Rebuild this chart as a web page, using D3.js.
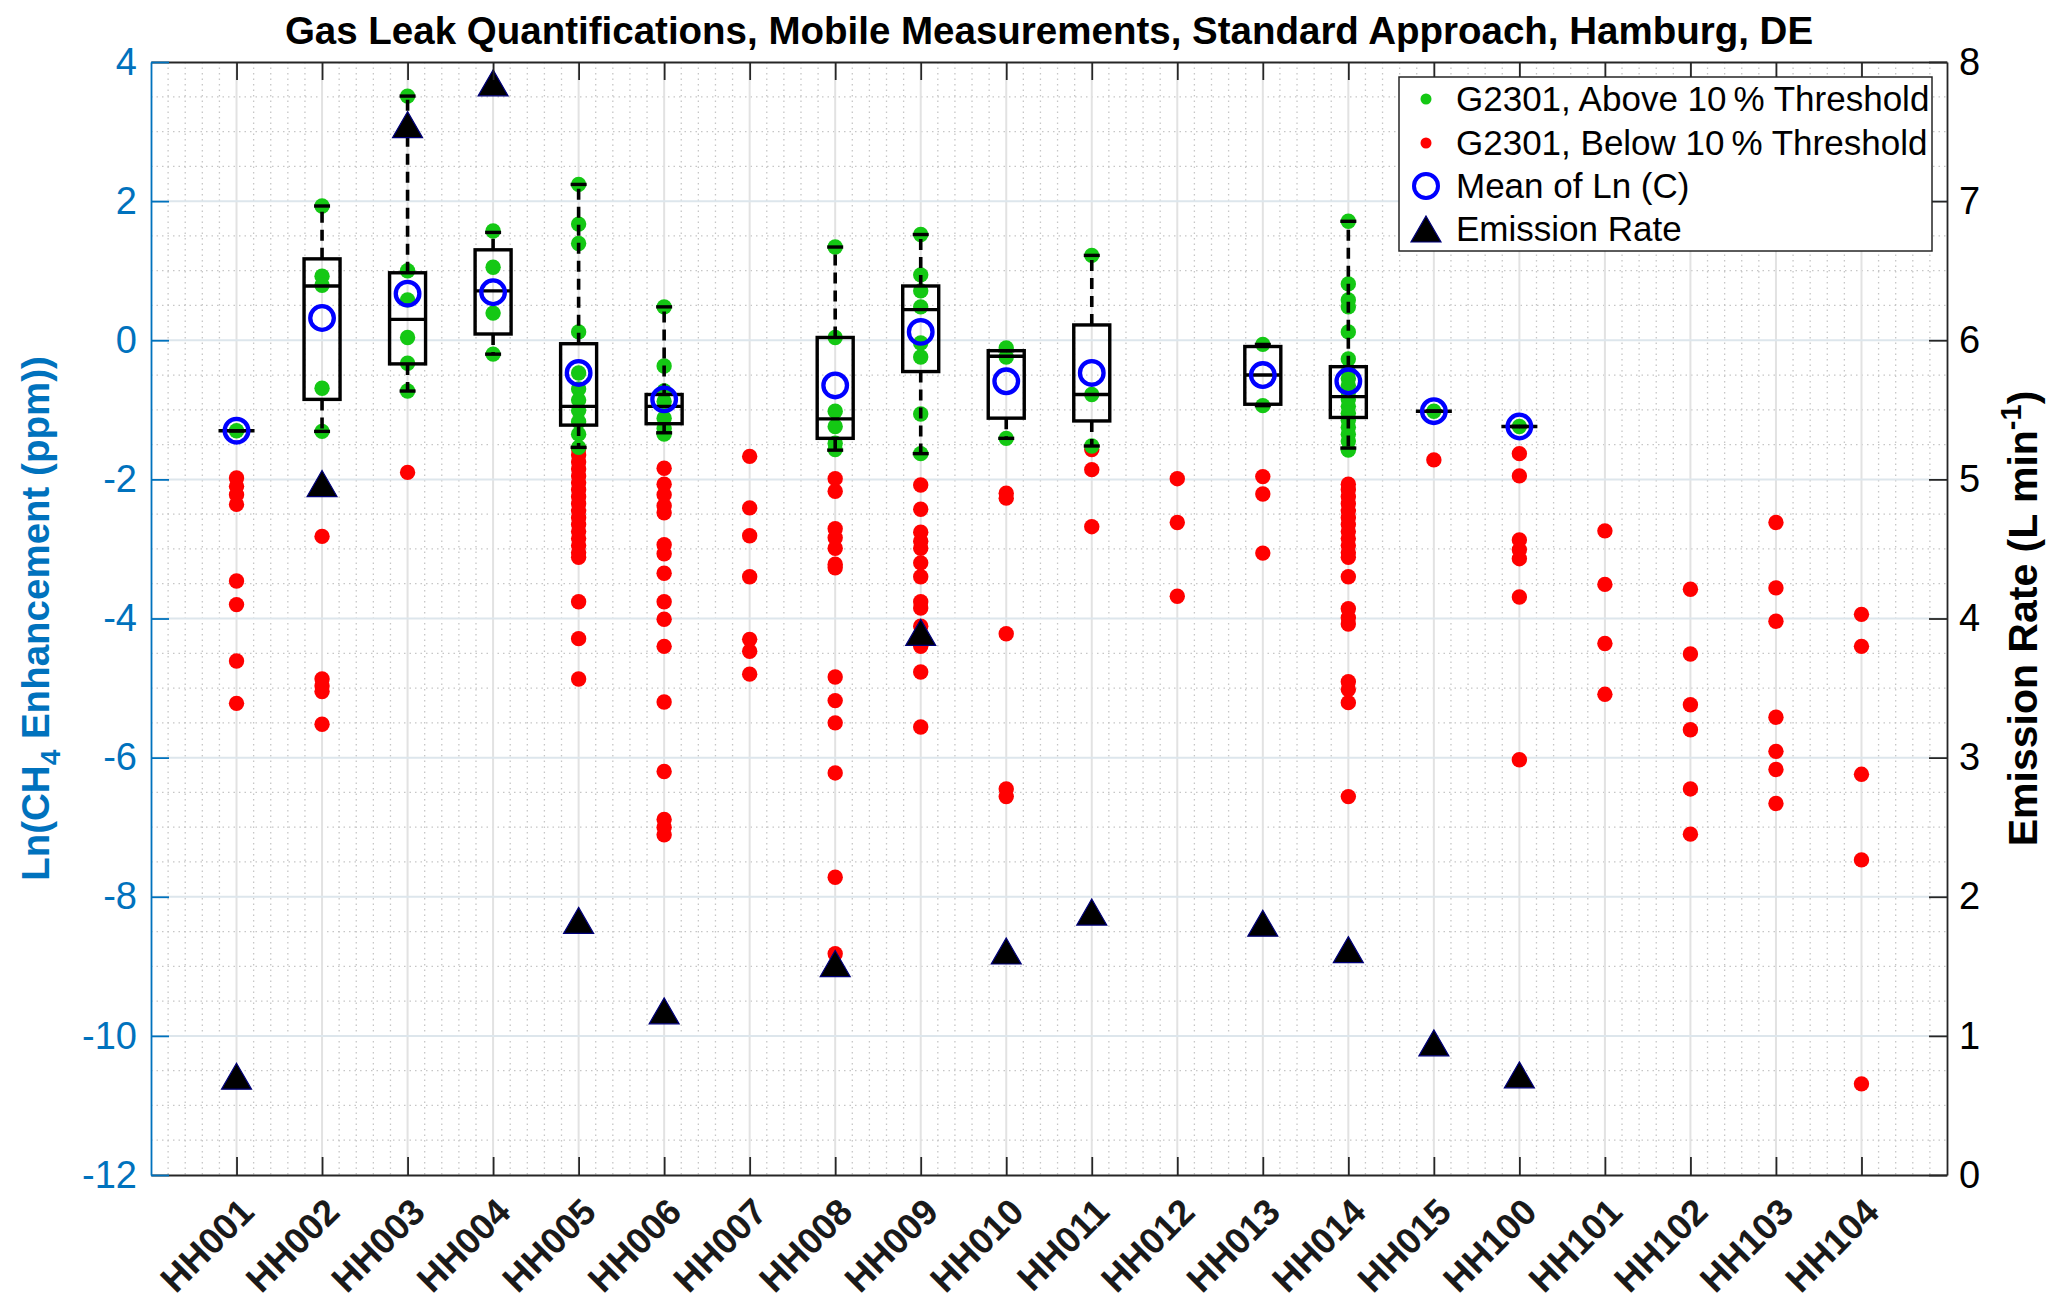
<!DOCTYPE html>
<html>
<head>
<meta charset="utf-8">
<script src="https://cdn.jsdelivr.net/npm/d3@7"></script>
<style>
body { margin: 0; background: #fff; }
text { font-family: "Liberation Sans", Arial, Helvetica, sans-serif; }
</style>
</head>
<body>
<div id="chart"></div>
<script>
// leak sites along x
var categories = ["HH001","HH002","HH003","HH004","HH005","HH006","HH007","HH008","HH009","HH010",
                  "HH011","HH012","HH013","HH014","HH015","HH100","HH101","HH102","HH103","HH104"];

// mean of ln(C) per site (left axis), null = not plotted
var meanLn = [-1.30, 0.32, 0.67, 0.69, -0.47, -0.85, null, -0.65, 0.12, -0.59,
              -0.47, null, -0.50, -0.59, -1.02, -1.24, null, null, null, null];

// emission rate in L/min (right axis)
var emissionRate = [0.71, 4.97, 7.55, 7.85, 1.83, 1.18, null, 1.52, 3.90, 1.61,
                    1.89, null, 1.81, 1.62, 0.95, 0.72, null, null, null, null];

// boxplot of the above-threshold points: [lower whisker, q1, median, q3, upper whisker]
var boxStats = [
    [-1.30, -1.30, -1.30, -1.30, -1.30],
    [-1.31, -0.85, 0.78, 1.17, 1.93],
    [-0.73, -0.34, 0.30, 0.97, 3.51],
    [-0.20, 0.09, 0.71, 1.30, 1.55],
    [-1.54, -1.22, -0.95, -0.05, 2.24],
    [-1.33, -1.20, -0.95, -0.78, 0.48],
    null,
    [-1.58, -1.41, -1.13, 0.04, 1.34],
    [-1.63, -0.45, 0.44, 0.78, 1.52],
    [-1.41, -1.12, -0.23, -0.15, -0.15],
    [-1.52, -1.16, -0.78, 0.22, 1.22],
    null,
    [-0.94, -0.92, -0.50, -0.09, -0.06],
    [-1.55, -1.11, -0.81, -0.38, 1.71],
    [-1.02, -1.02, -1.02, -1.02, -1.02],
    [-1.24, -1.24, -1.24, -1.24, -1.24],
    null, null, null, null
];

// ln(CH4 enhancement) of single passes, above 10 % threshold
var aboveVals = [
    [-1.30],
    [1.93, 0.92, 0.79, -0.69, -1.31],
    [3.51, 1.00, 0.58, 0.04, -0.33, -0.73],
    [1.57, 1.05, 0.39, -0.20],
    [2.24, 1.67, 1.39, 0.12, -0.47, -0.70, -0.86, -1.01, -1.17, -1.35, -1.54],
    [0.48, -0.37, -0.73, -0.88, -1.12, -1.27, -1.35],
    [],
    [1.34, 0.04, -1.02, -1.24, -1.48, -1.57],
    [1.52, 0.94, 0.71, 0.48, -0.04, -0.24, -1.06, -1.63],
    [-0.11, -0.24, -1.41],
    [1.22, -0.78, -1.52],
    [],
    [-0.06, -0.94],
    [1.71, 0.81, 0.58, 0.48, 0.12, -0.27, -0.45, -0.55, -0.65, -0.75, -0.85, -0.95, -1.05, -1.15, -1.25, -1.35, -1.45, -1.58],
    [-1.02],
    [-1.24],
    [], [], [], []
];

// below 10 % threshold
var belowVals = [
    [-1.98, -2.10, -2.22, -2.36, -3.46, -3.80, -4.61, -5.22],
    [-2.82, -4.87, -4.97, -5.05, -5.52],
    [-1.90],
    [],
    [-1.56, -1.65, -1.75, -1.85, -1.95, -2.05, -2.15, -2.25, -2.35, -2.45, -2.55, -2.65, -2.75, -2.85, -2.95, -3.05, -3.12, -3.76, -4.29, -4.87],
    [-1.84, -2.07, -2.22, -2.38, -2.48, -2.94, -3.07, -3.35, -3.76, -4.01, -4.40, -5.20, -6.20, -6.89, -7.00, -7.11],
    [-1.67, -2.41, -2.81, -3.40, -4.30, -4.47, -4.80],
    [-1.99, -2.17, -2.71, -2.84, -2.99, -3.22, -3.27, -4.84, -5.18, -5.50, -6.22, -7.72, -8.82],
    [-2.08, -2.43, -2.76, -2.89, -2.99, -3.20, -3.40, -3.76, -3.85, -4.11, -4.40, -4.77, -5.56],
    [-2.20, -2.27, -4.22, -6.45, -6.56],
    [-1.57, -1.86, -2.68],
    [-1.99, -2.62, -3.68],
    [-1.96, -2.21, -3.06],
    [-2.07, -2.15, -2.25, -2.35, -2.45, -2.55, -2.65, -2.75, -2.85, -2.95, -3.05, -3.12, -3.40, -3.86, -3.99, -4.08, -4.91, -5.02, -5.21, -6.56],
    [-1.72],
    [-1.63, -1.95, -2.87, -3.01, -3.14, -3.69, -6.03],
    [-2.74, -3.51, -4.36, -5.09],
    [-3.58, -4.51, -5.24, -5.60, -6.45, -7.10],
    [-2.62, -3.56, -4.04, -5.42, -5.91, -6.17, -6.66],
    [-3.94, -4.40, -6.24, -7.47, -10.69]
];

var leftTicks = [-12, -10, -8, -6, -4, -2, 0, 2, 4];
var rightTicks = [0, 1, 2, 3, 4, 5, 6, 7, 8];

var legendLabels = ["G2301, Above 10\u2009% Threshold", "G2301, Below 10\u2009% Threshold",
                    "Mean of Ln (C)", "Emission Rate"];

var titleText = "Gas Leak Quantifications, Mobile Measurements, Standard Approach, Hamburg, DE";

var blue = "#0072bd", axisGray = "#262626";
var green = "#14c814", red = "#ff0000";

var width = 2067, height = 1316;
var plotL = 151, plotR = 1947, plotT = 62, plotB = 1175;

var x = d3.scaleLinear().domain([0, categories.length + 1]).range([plotL, plotR]);
var yL = d3.scaleLinear().domain([-12, 4]).range([plotB, plotT]);
var yR = d3.scaleLinear().domain([0, 8]).range([plotB, plotT]);

var svg = d3.select("#chart").append("svg")
    .attr("width", width)
    .attr("height", height);

// grids
var minorX = d3.range(0, 106).map(function(i) { return i * 0.2; })
    .filter(function(v) { return Math.abs(v - Math.round(v)) > 1e-6; });
var minorY = d3.range(0, 33).map(function(i) { return -12 + i * 0.5; })
    .filter(function(v) { return Math.abs(v / 2 - Math.round(v / 2)) > 1e-6; });

var grid = svg.append("g").attr("class", "grid");

grid.selectAll(".minorX").data(minorX).enter().append("line")
    .attr("x1", function(d) { return x(d); })
    .attr("x2", function(d) { return x(d); })
    .attr("y1", plotT).attr("y2", plotB)
    .attr("stroke", "#c6c6c6").attr("stroke-width", 1.3)
    .attr("stroke-dasharray", "1.5,4");

grid.selectAll(".minorY").data(minorY).enter().append("line")
    .attr("x1", plotL).attr("x2", plotR)
    .attr("y1", function(d) { return yL(d); })
    .attr("y2", function(d) { return yL(d); })
    .attr("stroke", "#c6c6c6").attr("stroke-width", 1.3)
    .attr("stroke-dasharray", "1.5,4");

grid.selectAll(".majorX").data(d3.range(1, categories.length + 1)).enter().append("line")
    .attr("x1", function(d) { return x(d); })
    .attr("x2", function(d) { return x(d); })
    .attr("y1", plotT).attr("y2", plotB)
    .attr("stroke", "#e2e2e2").attr("stroke-width", 2);

grid.selectAll(".majorY").data(leftTicks.slice(1, -1)).enter().append("line")
    .attr("x1", plotL).attr("x2", plotR)
    .attr("y1", function(d) { return yL(d); })
    .attr("y2", function(d) { return yL(d); })
    .attr("stroke", "#dde6ec").attr("stroke-width", 2);

// flatten points
var redPts = [], greenPts = [];
belowVals.forEach(function(vals, i) {
    vals.forEach(function(v) { redPts.push({ i: i + 1, v: v }); });
});
aboveVals.forEach(function(vals, i) {
    vals.forEach(function(v) { greenPts.push({ i: i + 1, v: v }); });
});

svg.append("g").selectAll("circle").data(redPts).enter().append("circle")
    .attr("cx", function(d) { return x(d.i); })
    .attr("cy", function(d) { return yL(d.v); })
    .attr("r", 7.7)
    .attr("fill", red);

svg.append("g").selectAll("circle").data(greenPts).enter().append("circle")
    .attr("cx", function(d) { return x(d.i); })
    .attr("cy", function(d) { return yL(d.v); })
    .attr("r", 7.7)
    .attr("fill", green);

// boxplots
var boxes = boxStats.map(function(b, i) { return { i: i + 1, b: b }; })
    .filter(function(d) { return d.b != null; });
var boxW = 36, capW = 16;

var bx = svg.append("g").attr("class", "boxes");

bx.selectAll(".whiskerUp").data(boxes).enter().append("line")
    .attr("x1", function(d) { return x(d.i); })
    .attr("x2", function(d) { return x(d.i); })
    .attr("y1", function(d) { return yL(d.b[3]); })
    .attr("y2", function(d) { return yL(d.b[4]); })
    .attr("stroke", "#000").attr("stroke-width", 3.6)
    .attr("stroke-dasharray", "11,7");

bx.selectAll(".whiskerDown").data(boxes).enter().append("line")
    .attr("x1", function(d) { return x(d.i); })
    .attr("x2", function(d) { return x(d.i); })
    .attr("y1", function(d) { return yL(d.b[1]); })
    .attr("y2", function(d) { return yL(d.b[0]); })
    .attr("stroke", "#000").attr("stroke-width", 3.6)
    .attr("stroke-dasharray", "11,7");

[0, 4].forEach(function(k) {
    bx.selectAll(".cap" + k).data(boxes).enter().append("line")
        .attr("x1", function(d) { return x(d.i) - capW / 2; })
        .attr("x2", function(d) { return x(d.i) + capW / 2; })
        .attr("y1", function(d) { return yL(d.b[k]); })
        .attr("y2", function(d) { return yL(d.b[k]); })
        .attr("stroke", "#000").attr("stroke-width", 3.4);
});

bx.selectAll(".box").data(boxes).enter().append("rect")
    .attr("x", function(d) { return x(d.i) - boxW / 2; })
    .attr("width", boxW)
    .attr("y", function(d) { return yL(d.b[3]); })
    .attr("height", function(d) { return yL(d.b[1]) - yL(d.b[3]); })
    .attr("fill", "none")
    .attr("stroke", "#000").attr("stroke-width", 3.4);

bx.selectAll(".median").data(boxes).enter().append("line")
    .attr("x1", function(d) { return x(d.i) - boxW / 2; })
    .attr("x2", function(d) { return x(d.i) + boxW / 2; })
    .attr("y1", function(d) { return yL(d.b[2]); })
    .attr("y2", function(d) { return yL(d.b[2]); })
    .attr("stroke", "#000").attr("stroke-width", 3.4);

// means
var means = meanLn.map(function(m, i) { return { i: i + 1, v: m }; })
    .filter(function(d) { return d.v != null; });

svg.append("g").selectAll("circle").data(means).enter().append("circle")
    .attr("cx", function(d) { return x(d.i); })
    .attr("cy", function(d) { return yL(d.v); })
    .attr("r", 11.8)
    .attr("fill", "none")
    .attr("stroke", "#0000ff").attr("stroke-width", 4.3);

// emission rate triangles on the right axis
var tri = "M0,-13L15,13L-15,13Z";
var emis = emissionRate.map(function(e, i) { return { i: i + 1, v: e }; })
    .filter(function(d) { return d.v != null; });

svg.append("g").selectAll("path").data(emis).enter().append("path")
    .attr("d", tri)
    .attr("transform", function(d) { return "translate(" + x(d.i) + "," + yR(d.v) + ")"; })
    .attr("fill", "#000")
    .attr("stroke", "#00007a").attr("stroke-width", 1.2);

// axes
var fontFam = "Liberation Sans, Arial, Helvetica, sans-serif";

var xAxis = svg.append("g")
    .attr("class", "x-axis")
    .attr("transform", "translate(0," + plotB + ")")
    .call(d3.axisBottom(x)
        .tickValues(d3.range(1, categories.length + 1))
        .tickFormat(function(d) { return categories[d - 1]; })
        .tickSizeInner(-18).tickSizeOuter(0));

xAxis.select(".domain").attr("stroke", axisGray).attr("stroke-width", 1.8);
xAxis.selectAll(".tick line").attr("stroke", axisGray).attr("stroke-width", 1.8);
xAxis.selectAll("text")
    .attr("x", 0).attr("y", 0).attr("dy", "0.35em")
    .attr("transform", "translate(10,30) rotate(-45)")
    .style("text-anchor", "end")
    .style("font-family", fontFam)
    .style("font-size", "36.5px")
    .style("font-weight", "bold")
    .attr("fill", "#1a1a1a");

var topAxis = svg.append("g")
    .attr("transform", "translate(0," + plotT + ")")
    .call(d3.axisTop(x)
        .tickValues(d3.range(1, categories.length + 1))
        .tickFormat("")
        .tickSizeInner(-18).tickSizeOuter(0));
topAxis.select(".domain").attr("stroke", axisGray).attr("stroke-width", 1.8);
topAxis.selectAll(".tick line").attr("stroke", axisGray).attr("stroke-width", 1.8);

var yAxisL = svg.append("g")
    .attr("class", "y-axisL")
    .attr("transform", "translate(" + plotL + ",0)")
    .call(d3.axisLeft(yL)
        .tickValues(leftTicks)
        .tickFormat(function(d) { return String(d); })
        .tickSizeInner(-18).tickSizeOuter(0).tickPadding(14));
yAxisL.select(".domain").attr("stroke", blue).attr("stroke-width", 1.8);
yAxisL.selectAll(".tick line").attr("stroke", blue).attr("stroke-width", 1.8);
yAxisL.selectAll("text")
    .attr("fill", blue)
    .style("font-family", fontFam)
    .style("font-size", "38px");

var yAxisR = svg.append("g")
    .attr("class", "y-axisR")
    .attr("transform", "translate(" + plotR + ",0)")
    .call(d3.axisRight(yR)
        .tickValues(rightTicks)
        .tickFormat(function(d) { return String(d); })
        .tickSizeInner(-18).tickSizeOuter(0).tickPadding(12));
yAxisR.select(".domain").attr("stroke", axisGray).attr("stroke-width", 1.8);
yAxisR.selectAll(".tick line").attr("stroke", axisGray).attr("stroke-width", 1.8);
yAxisR.selectAll("text")
    .attr("fill", "#000")
    .style("font-family", fontFam)
    .style("font-size", "38px");

// axis titles
var lLab = svg.append("text")
    .attr("transform", "translate(49," + ((plotT + plotB) / 2) + ") rotate(-90)")
    .style("text-anchor", "middle")
    .style("font-size", "38.5px")
    .style("font-weight", "bold")
    .attr("fill", blue);
lLab.append("tspan").text("Ln(CH");
lLab.append("tspan").attr("dy", 11).style("font-size", "28px").text("4");
lLab.append("tspan").attr("dy", -11).text(" Enhancement (ppm))");

var rLab = svg.append("text")
    .attr("transform", "translate(2037," + ((plotT + plotB) / 2) + ") rotate(-90)")
    .style("text-anchor", "middle")
    .style("font-size", "41px")
    .style("font-weight", "bold")
    .attr("fill", "#000");
rLab.append("tspan").text("Emission Rate (L min");
rLab.append("tspan").attr("dy", -16).style("font-size", "29px").text("-1");
rLab.append("tspan").attr("dy", 16).text(")");

svg.append("text")
    .attr("x", (plotL + plotR) / 2)
    .attr("y", 44)
    .style("text-anchor", "middle")
    .style("font-size", "38.5px")
    .style("font-weight", "bold")
    .attr("fill", "#000")
    .text(titleText);

// legend
var legX = 1399, legY = 77, legW = 533, legH = 174;
var leg = svg.append("g").attr("class", "legend");
leg.append("rect")
    .attr("x", legX).attr("y", legY)
    .attr("width", legW).attr("height", legH)
    .attr("fill", "#fff")
    .attr("stroke", axisGray).attr("stroke-width", 1.5);

var rowY = [99, 143, 186, 229];
var legItems = leg.selectAll(".item").data(legendLabels).enter().append("g")
    .attr("transform", function(d, i) { return "translate(" + (legX + 27) + "," + rowY[i] + ")"; });

legItems.each(function(d, i) {
    var g = d3.select(this);
    if (i == 0 || i == 1) {
        g.append("circle").attr("r", 5.5).attr("fill", i == 0 ? green : red);
    } else if (i == 2) {
        g.append("circle").attr("r", 12).attr("fill", "none")
            .attr("stroke", "#0000ff").attr("stroke-width", 4);
    } else {
        g.append("path").attr("d", tri).attr("fill", "#000")
            .attr("stroke", "#00007a").attr("stroke-width", 1.2);
    }
});

legItems.append("text")
    .attr("x", 30)
    .attr("dy", "0.35em")
    .style("font-size", "35px")
    .attr("fill", "#000")
    .text(function(d) { return d; });
</script>
</body>
</html>
